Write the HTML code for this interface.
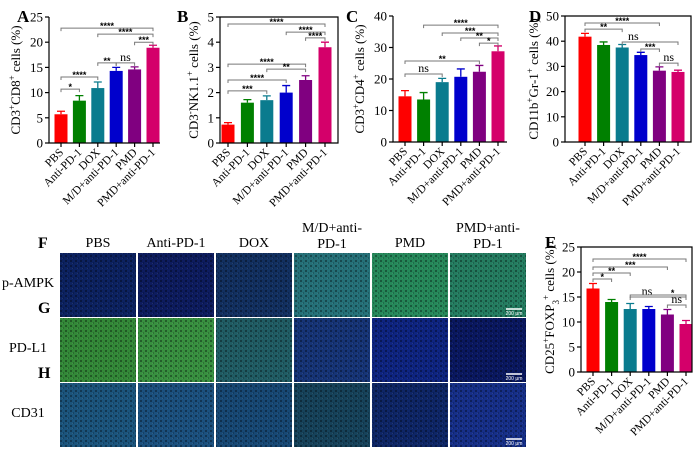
<!DOCTYPE html>
<html><head><meta charset="utf-8">
<style>
body{margin:0;background:#fff;}
svg{display:block;font-family:"Liberation Serif",serif;}
</style></head>
<body>
<svg id="fig" width="700" height="449" viewBox="0 0 700 449"></svg>
<script>
const groups = ["PBS","Anti-PD-1","DOX","M/D+anti-PD-1","PMD","PMD+anti-PD-1"];
const colors = ["#fe0000","#008000","#0a7b8e","#0000cc","#800080","#d4006a"];
const valsA = [5.7,8.4,10.9,14.3,14.6,18.9];
const errA = [0.6,1.0,1.2,0.7,0.5,0.5];
const ticksA = [0,5,10,15,20,25];
const brA = [[0,1,"*",10.7],[0,2,"****",13.1],[2,3,"**",15.9],[3,4,"ns",15.9],[2,5,"****",21.6],[4,5,"***",20.0],[0,5,"****",22.8]];
const valsB = [0.73,1.6,1.7,2.0,2.5,3.8];
const errB = [0.08,0.12,0.17,0.28,0.17,0.2];
const ticksB = [0,1,2,3,4,5];
const brB = [[0,2,"***",2.07],[0,3,"****",2.5],[0,4,"****",3.13],[2,4,"**",2.93],[3,5,"****",4.4],[4,5,"****",4.17],[0,5,"****",4.72]];
const valsC = [14.5,13.5,19,20.7,22.3,28.8];
const errC = [1.8,2.2,1.2,2.5,2.0,1.7];
const ticksC = [0,10,20,30,40];
const brC = [[0,2,"ns",21.6],[0,4,"**",25.7],[1,5,"****",37.1],[2,5,"***",34.6],[3,5,"**",33.0],[4,5,"*",31.4]];
const valsD = [41.8,38.5,37.5,34.5,28.3,27.8];
const errD = [1.3,1.2,1.2,1.1,1.5,0.7];
const ticksD = [0,10,20,30,40,50];
const brD = [[0,2,"**",44.8],[0,4,"****",47.2],[2,5,"ns",39.7,0.2],[3,4,"***",36.9],[4,5,"ns",31.3]];
const valsE = [16.7,14,12.6,12.6,11.5,9.6];
const errE = [1,0.5,1.1,0.5,1,0.7];
const ticksE = [0,5,10,15,20,25];
const brE = [[0,1,"*",18.6],[0,2,"**",19.8],[0,4,"***",21],[0,5,"****",22.6],[2,5,"ns",15,0.3],[2,5,"*",15.4,0.76],[4,5,"ns",13.4]];

const NS="http://www.w3.org/2000/svg";
const svg=document.getElementById('fig');
function mk(tag,attrs,parent,text){const e=document.createElementNS(NS,tag);for(const k in attrs)e.setAttribute(k,attrs[k]);if(text!==undefined)e.textContent=text;(parent||svg).appendChild(e);return e;}

function chart(cfg){
  const g=mk('g',{});
  
  
  const max=cfg.ticks[cfg.ticks.length-1];
  const y=v=>cfg.y0-(v/max)*(cfg.y0-cfg.y1);
  const x=i=>cfg.c0+i*(cfg.c5-cfg.c0)/5;
  const bw=13;
  cfg.vals.forEach((v,i)=>{
    const b=mk('rect',{x:x(i)-bw/2,y:y(v),width:bw,height:cfg.y0-y(v),fill:colors[i]},g);
    
    
    const e=cfg.err[i];
    const el=mk('path',{d:`M${x(i)} ${y(v)}V${y(v+e)}M${x(i)-4} ${y(v+e)}H${x(i)+4}`,stroke:colors[i],'stroke-width':1.3,fill:'none'},g);
    
    
  });
  const ax=mk('path',{d:`M${cfg.ax} ${cfg.y1}V${cfg.y0}H${cfg.ar}`+(cfg.box?`V${cfg.y1}H${cfg.ax}`:''),stroke:'#000','stroke-width':1.2,fill:'none'},g);
  
  
  cfg.ticks.forEach(t=>{
    mk('line',{x1:cfg.ax-4,x2:cfg.ax,y1:y(t),y2:y(t),stroke:'#000','stroke-width':1.2},g);
    const tl=mk('text',{x:cfg.ax-6,y:y(t)+4.5,'text-anchor':'end','font-size':13},g,String(t));
    
    
  });
  groups.forEach((n,i)=>{
    mk('line',{x1:x(i),x2:x(i),y1:cfg.y0,y2:cfg.y0+4,stroke:'#000','stroke-width':1.2},g);
    const tl=mk('text',{x:x(i)+3,y:cfg.y0+10,'text-anchor':'end','font-size':11.5,transform:`rotate(-45 ${x(i)+3} ${cfg.y0+10})`},g,n);
    
    
  });
  const ty=(cfg.y0+cfg.y1)/2;
  const tt=mk('text',{x:cfg.tx,y:ty,'text-anchor':'middle','font-size':13,transform:`rotate(-90 ${cfg.tx} ${ty})`},g);
  tt.innerHTML=cfg.title;
  
  
  cfg.br.forEach(b=>{
    const [i,j,lab,v,f]=b;const yy=y(v);
    const p=mk('path',{d:`M${x(i)} ${yy+3}V${yy}H${x(j)}V${yy+3}`,stroke:'#777','stroke-width':1,fill:'none'},g);
    
    
    const lx=x(i)+(x(j)-x(i))*(f===undefined?0.5:f);
    const ns=lab==='ns';
    const t=mk('text',{x:lx,y:ns?yy-2:yy+1,'text-anchor':'middle','font-size':ns?12:9,'font-family':ns?'Liberation Serif':'Liberation Sans','font-weight':ns?'normal':'bold'},g,lab);
    
    
  });
  const L=mk('text',{x:cfg.lx,y:cfg.ly,'font-size':17,'font-weight':'bold'},g,cfg.letter);
  
  
}

chart({name:'chart-a',letter:'A',lx:17,ly:22,vals:valsA,err:errA,ticks:ticksA,br:brA,y0:143,y1:17,ax:49,ar:160,c0:61,c5:153,box:false,tx:20,title:'CD3<tspan baseline-shift="super" font-size="9">+</tspan>CD8<tspan baseline-shift="super" font-size="9">+</tspan> cells (%)'});
chart({name:'chart-b',letter:'B',lx:177,ly:22,vals:valsB,err:errB,ticks:ticksB,br:brB,y0:143,y1:17,ax:220,ar:338,c0:228,c5:325,box:true,tx:198,title:'CD3<tspan baseline-shift="super" font-size="9">-</tspan>NK1.1<tspan baseline-shift="super" font-size="9">+</tspan> cells (%)'});
chart({name:'chart-c',letter:'C',lx:346,ly:22,vals:valsC,err:errC,ticks:ticksC,br:brC,y0:142,y1:16,ax:393,ar:507,c0:405,c5:498,box:false,tx:364,title:'CD3<tspan baseline-shift="super" font-size="9">+</tspan>CD4<tspan baseline-shift="super" font-size="9">+</tspan> cells (%)'});
chart({name:'chart-d',letter:'D',lx:529,ly:22,vals:valsD,err:errD,ticks:ticksD,br:brD,y0:142,y1:16,ax:565,ar:691,c0:585,c5:678,box:true,tx:538,title:'CD11b<tspan baseline-shift="super" font-size="9">+</tspan>Gr-1<tspan baseline-shift="super" font-size="9">+</tspan> cells (%)'});
chart({name:'chart-e',letter:'E',lx:545,ly:248,vals:valsE,err:errE,ticks:ticksE,br:brE,y0:372,y1:247,ax:581,ar:692,c0:593,c5:686,box:true,tx:554,title:'CD25<tspan baseline-shift="super" font-size="9">+</tspan>FOXP<tspan baseline-shift="sub" font-size="9">3</tspan><tspan baseline-shift="super" font-size="9">+</tspan> cells (%)'});

const colX=[60,138,216,294,372,450];
const rowY=[253,318,383];
const tileColors=[
 ["#0c2260","#0d1c5e","#123060","#257078","#26885a","#247c60"],
 ["#338838","#389040","#205c64","#163476","#0e2480","#0a1860"],
 ["#1b547c","#1b507e","#174874","#16425a","#0e2666","#162f88"]];
const defs=mk('defs',{});
const pat=mk('pattern',{id:'tex',width:5,height:5,patternUnits:'userSpaceOnUse'},defs);
mk('rect',{x:0,y:0,width:2,height:2,fill:'rgba(0,0,0,0.35)'},pat);
mk('rect',{x:3,y:2,width:1,height:2,fill:'rgba(0,0,0,0.2)'},pat);
mk('rect',{x:2,y:3,width:1,height:1,fill:'rgba(255,255,255,0.08)'},pat);
const grid=mk('g',{});


tileColors.forEach((row,r)=>row.forEach((c,k)=>{
  const t=mk('rect',{x:colX[k],y:rowY[r],width:76,height:64,fill:c},grid);
  
  
  mk('rect',{x:colX[k],y:rowY[r],width:76,height:64,fill:'url(#tex)'},grid);
}));
rowY.forEach(yy=>{
  mk('line',{x1:506,x2:522,y1:yy+56,y2:yy+56,stroke:'#fff','stroke-width':1.5},grid);
  const s=mk('text',{x:514,y:yy+62,'text-anchor':'middle','font-size':5,fill:'#fff','font-family':'Liberation Sans'},grid,'200 μm');
  
  
});
const colT=[["PBS"],["Anti-PD-1"],["DOX"],["M/D+anti-","PD-1"],["PMD"],["PMD+anti-","PD-1"]];
colT.forEach((a,k)=>{
  const cx=colX[k]+38;
  a.forEach((s,l)=>{
    const yy=a.length===1?247:232+l*16;
    const t=mk('text',{x:cx,y:yy,'text-anchor':'middle','font-size':14},svg,s);
    
    
  });
});
[["p-AMPK",287],["PD-L1",352],["CD31",417]].forEach(([s,yy])=>{
  const t=mk('text',{x:28,y:yy,'text-anchor':'middle','font-size':14},svg,s);
  
  
});
[["F",248],["G",313],["H",378]].forEach(([s,yy])=>{
  const t=mk('text',{x:38,y:yy,'font-size':16,'font-weight':'bold'},svg,s);
  
  
});
</script>
</body></html>
